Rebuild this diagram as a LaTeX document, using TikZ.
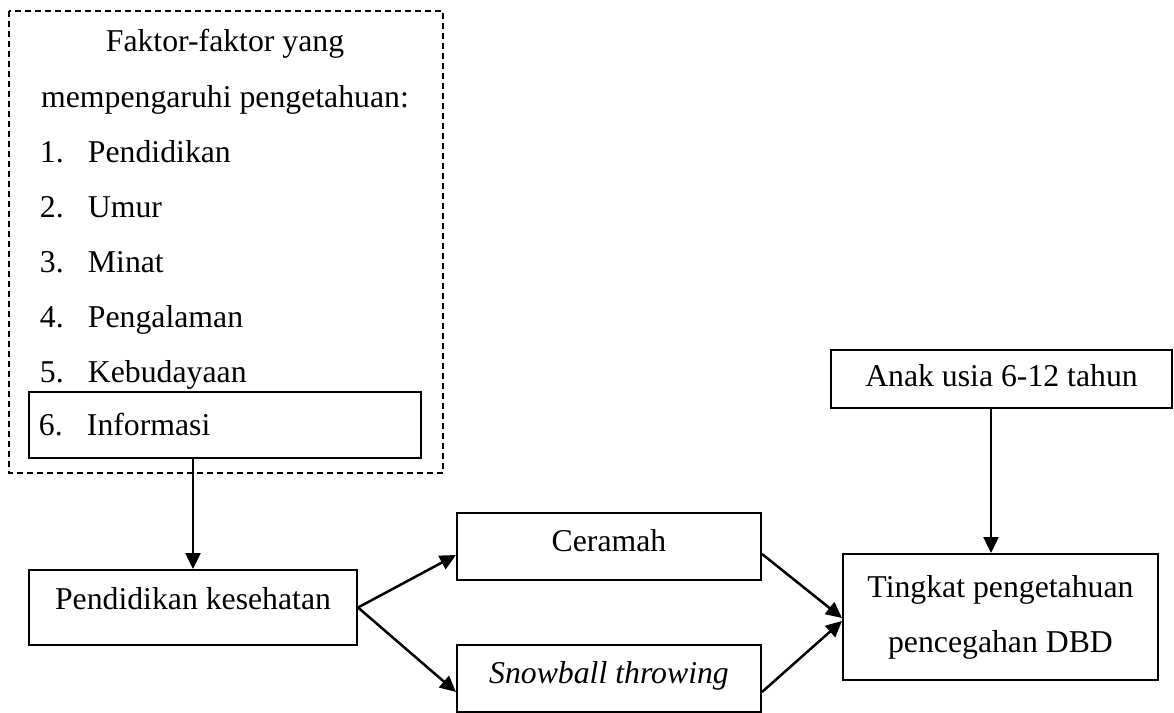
\documentclass[tikz,border=0pt]{standalone}
\usepackage{fontspec}
\setmainfont{Liberation Serif}
\usepackage{tikz}
\usetikzlibrary{arrows.meta,positioning}

\begin{document}
\begin{tikzpicture}[x=0.4pt,y=-0.4pt,line width=0.8pt,
                    >={Triangle[length=6.4pt,width=6pt]},
                    font=\fontsize{12.7}{22}\selectfont,
                    box/.style={rectangle,draw,inner sep=0pt,text height=.68em,text depth=.32em},
                    item/.style={anchor=base west,inner sep=0pt},
                    link/.style={->,line width=1pt}]
\useasboundingbox (0,0) rectangle (1174,713);

% faktor-faktor
\draw[dash pattern=on 2.2pt off 1.8pt] (9,11) rectangle (443,473);
\node[anchor=base,inner sep=0pt] (head1) at (225,52) {Faktor-faktor yang};
\node[anchor=base,inner sep=0pt] (head2) at (225,107) {mempengaruhi pengetahuan:};
\node[item] (it1) at (39,162) {\makebox[19.2pt][l]{1.}Pendidikan};
\node[item] (it2) [below=22pt of it1.base west,anchor=base west] {\makebox[19.2pt][l]{2.}Umur};
\node[item] (it3) [below=22pt of it2.base west,anchor=base west] {\makebox[19.2pt][l]{3.}Minat};
\node[item] (it4) [below=22pt of it3.base west,anchor=base west] {\makebox[19.2pt][l]{4.}Pengalaman};
\node[item] (it5) [below=22pt of it4.base west,anchor=base west] {\makebox[19.2pt][l]{5.}Kebudayaan};
\node[box,minimum width=156.8pt,minimum height=26.4pt,text width=148.8pt,align=left,
      text height=1.1em,text depth=.28em] (info) at (225,425) {\makebox[19.2pt][l]{6.}Informasi};

% alur
\node[box,minimum width=131.2pt,minimum height=30pt,text depth=.5em] (pk) at (193,607.5) {Pendidikan kesehatan};
\node[box,minimum width=121.6pt,minimum height=26.8pt] (ceramah) at (609,546.5) {Ceramah};
\node[box,minimum width=121.6pt,minimum height=26.8pt] (snowball) [below of=ceramah,node distance=52.8pt] {\textit{Snowball throwing}};
\node[box,minimum width=136.4pt,minimum height=23.2pt,text depth=.12em] (anak) at (1001.5,379) {Anak usia 6-12 tahun};
\node[box,minimum width=126pt,minimum height=50.4pt,align=center,text height=,text depth=] (tingkat) at (1000.5,617) {Tingkat pengetahuan\\pencegahan DBD};

\draw[link] (info.south -| pk.north) -- (pk.north);
\draw[link] (pk.east) -- ([yshift=-3.4pt]ceramah.west);
\draw[link] (pk.east) -- ([yshift=-5.4pt]snowball.west);
\draw[link] ([yshift=-3pt]ceramah.east) -- ([yshift=-0.4pt]tingkat.west);
\draw[link] ([yshift=-5.4pt]snowball.east) -- ([yshift=-1.6pt]tingkat.west);
\draw[link] ([xshift=-4.2pt]anak.south) -- ([xshift=-4.2pt]anak.south |- tingkat.north);
\end{tikzpicture}
\end{document}
